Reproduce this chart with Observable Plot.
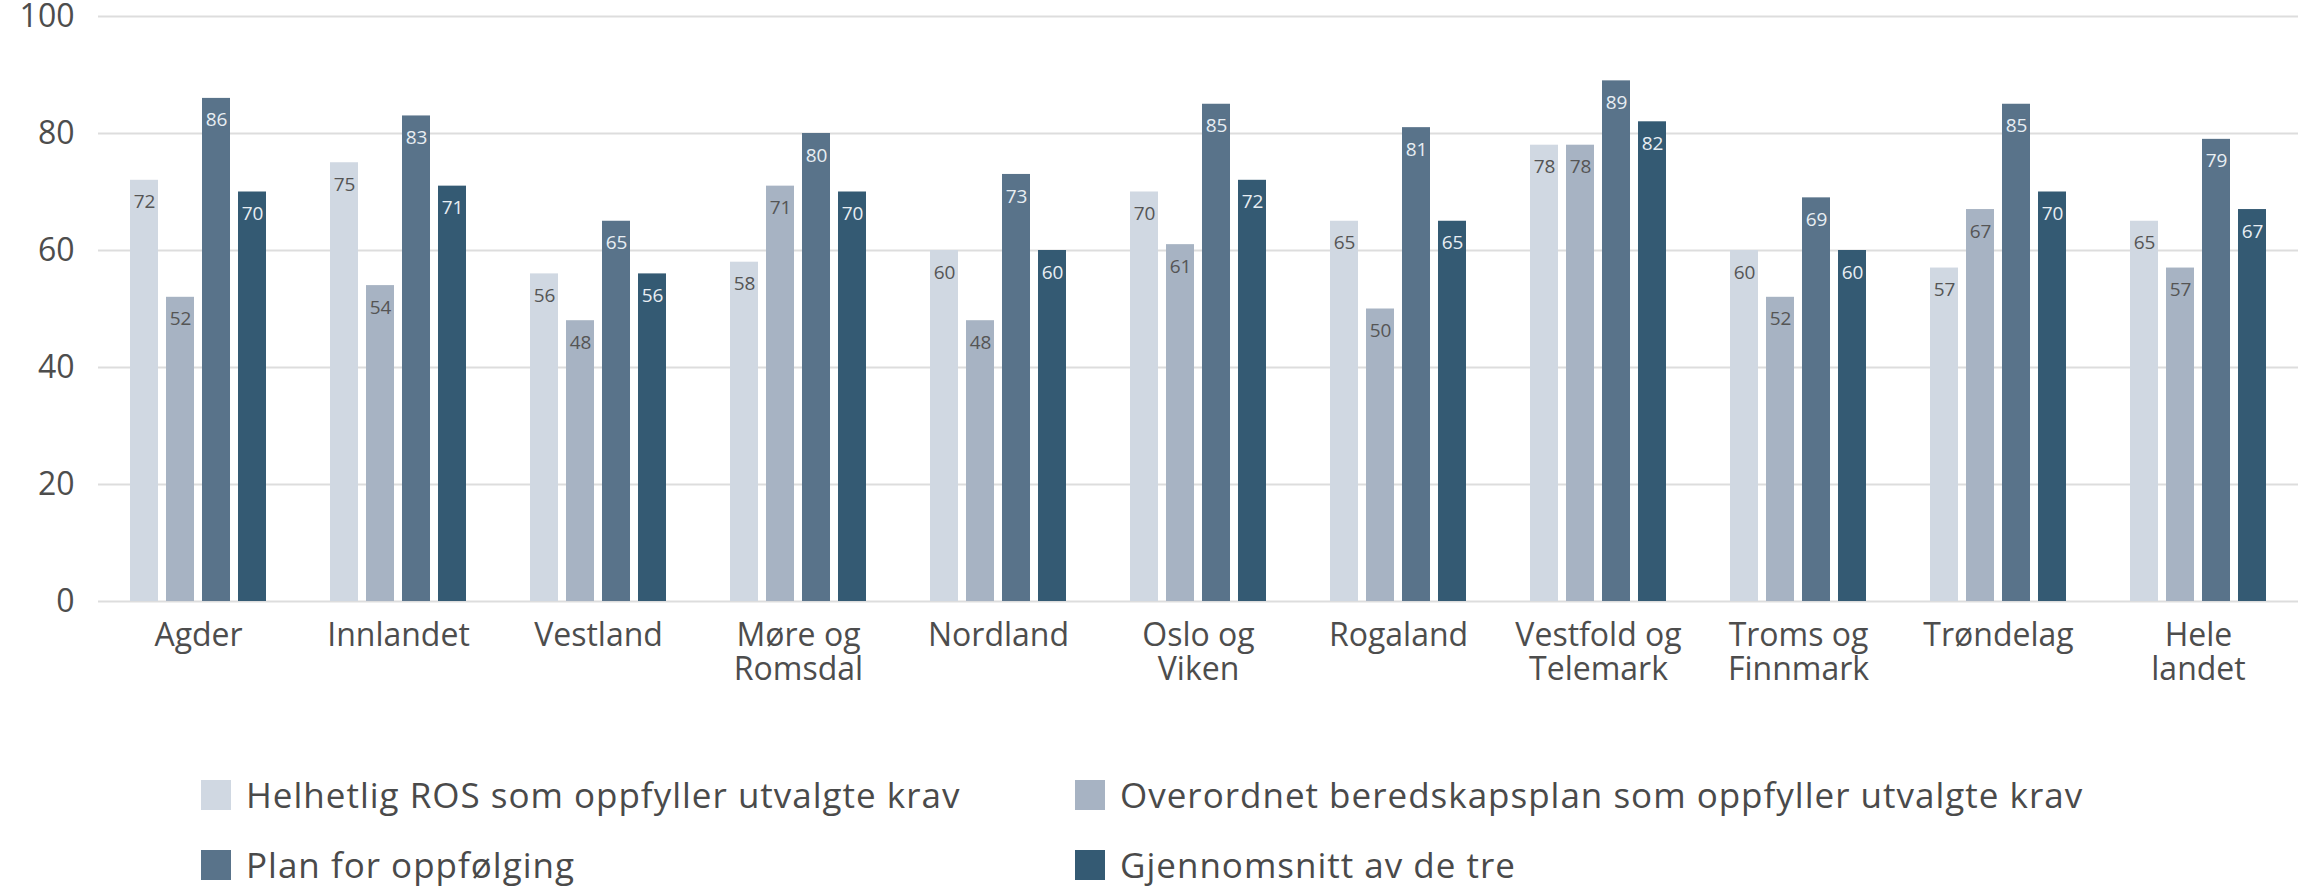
<!DOCTYPE html>
<html><head><meta charset="utf-8">
<script src="https://cdn.jsdelivr.net/npm/d3@7"></script>
<script src="https://cdn.jsdelivr.net/npm/@observablehq/plot@0.6"></script>
<style>
body{margin:0;background:#fff;font-family:"Open Sans",sans-serif;}
#chart{width:2308px;height:889px;position:relative;overflow:hidden;}
.legend{display:grid;grid-template-columns:874px auto;margin-left:201px;padding-top:60px;}
.item{display:flex;align-items:center;height:70px;font-size:35px;letter-spacing:1px;color:#4a4a4a;white-space:nowrap;line-height:1.1;}
.sw{width:30px;height:30px;margin-right:15px;flex:none;}
</style></head><body><div id="chart"></div><script>
const regions = ["Agder","Innlandet","Vestland","Møre og Romsdal","Nordland","Oslo og Viken","Rogaland","Vestfold og Telemark","Troms og Finnmark","Trøndelag","Hele landet"];
const regionLabels = ["Agder","Innlandet","Vestland","Møre og\nRomsdal","Nordland","Oslo og\nViken","Rogaland","Vestfold og\nTelemark","Troms og\nFinnmark","Trøndelag","Hele\nlandet"];
const seriesNames = ["Helhetlig ROS som oppfyller utvalgte krav","Overordnet beredskapsplan som oppfyller utvalgte krav","Plan for oppfølging","Gjennomsnitt av de tre"];
const helhetligROS   = [72,75,56,58,60,70,65,78,60,57,65];
const beredskapsplan = [52,54,48,71,48,61,50,78,52,67,57];
const planOppfolging = [86,83,65,80,73,85,81,89,69,85,79];
const gjennomsnitt   = [70,71,56,70,60,72,65,82,60,70,67];
const yTicks = [0,20,40,60,80,100];
const colors = ["#d0d8e2","#a7b3c3","#59738a","#345a73"];
const labelColors = ["#555555","#555555","#e8eef3","#e8eef3"];

const seriesValues = [helhetligROS, beredskapsplan, planOppfolging, gjennomsnitt];
const data = [];
regions.forEach((r,i)=>seriesNames.forEach((s,j)=>data.push({region:r, series:s, si:j, value:seriesValues[j][i]})));
const labelOf = new Map(regions.map((r,i)=>[r, regionLabels[i]]));

const plot = Plot.plot({
  width:2308, height:700,
  marginLeft:94, marginRight:6, marginTop:16, marginBottom:99,
  style:{fontFamily:"Open Sans", background:"white", overflow:"visible"},
  fx:{domain:regions, paddingInner:0, paddingOuter:0, label:null},
  x:{domain:seriesNames, paddingInner:0.22, paddingOuter:0.86, axis:null},
  y:{domain:[0,100], label:null},
  color:{domain:seriesNames, range:colors},
  marks:[
    Plot.gridY(yTicks, {stroke:"#dddddd", strokeOpacity:1, strokeWidth:2}),
    Plot.barY(data, {fx:"region", x:"series", y:"value", fill:"series"}),
    Plot.text(data.filter(d=>d.si<2), {fx:"region", x:"series", y:"value", text:d=>String(d.value), dy:22, fill:labelColors[0], fontSize:19}),
    Plot.text(data.filter(d=>d.si>=2), {fx:"region", x:"series", y:"value", text:d=>String(d.value), dy:22, fill:labelColors[2], fontSize:19}),
    Plot.axisY(yTicks, {tickSize:0, tickPadding:24, fontSize:32, fill:"#4d4d4d", label:null}),
    Plot.axisFx({anchor:"bottom", tickSize:0, tickPadding:20, fontSize:32, fill:"#4d4d4d", label:null, lineHeight:1.07, tickFormat:r=>labelOf.get(r)})
  ]
});
const chart = document.getElementById("chart");
chart.appendChild(plot);
const legend = document.createElement("div");
legend.className = "legend";
seriesNames.forEach((s,j)=>{
  const it = document.createElement("div"); it.className="item";
  const sw = document.createElement("span"); sw.className="sw"; sw.style.background=colors[j];
  const tx = document.createElement("span"); tx.textContent=s;
  it.appendChild(sw); it.appendChild(tx); legend.appendChild(it);
});
chart.appendChild(legend);
</script></body></html>
